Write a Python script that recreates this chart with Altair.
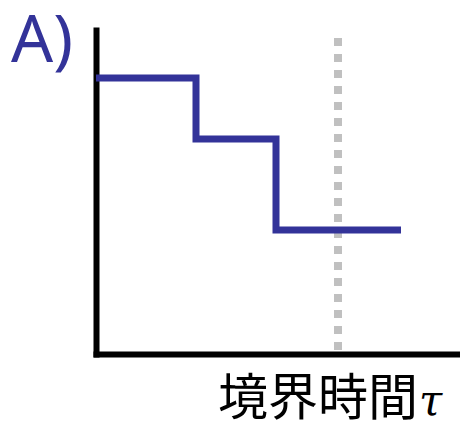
import altair as alt
import pandas as pd

# Step function: breakpoints on the time axis and the level held after each
step_t = [0.0, 1.0, 1.8, 3.05]
step_level = [2.76, 2.15, 1.24, 1.24]

# Boundary time marker
tau_t = [2.42]
tau_top = [3.16]

panel_label = "A)"
axis_label_jp = "境界時間"
axis_label_sym = "τ"

steps = pd.DataFrame({"t": step_t, "level": step_level})
marker = pd.DataFrame({"t": tau_t, "top": tau_top, "bottom": [0.0]})

x_scale = alt.Scale(domain=[0, 3.64], nice=False, zero=False)
y_scale = alt.Scale(domain=[0, 3.24], nice=False, zero=False)

axis_x = alt.Axis(domain=True, domainColor="black", domainWidth=6, domainCap="square",
                  ticks=False, labels=False, grid=False, title=None)
axis_y = alt.Axis(domain=True, domainColor="black", domainWidth=6, domainCap="square",
                  ticks=False, labels=False, grid=False, title=None)

step_line = alt.Chart(steps).mark_line(
    interpolate="step-after", color="#333399", strokeWidth=7,
    strokeJoin="miter", strokeCap="butt"
).encode(
    x=alt.X("t:Q", scale=x_scale, axis=axis_x),
    y=alt.Y("level:Q", scale=y_scale, axis=axis_y),
)

tau_rule = alt.Chart(marker).mark_rule(
    color="#c0c0c0", strokeWidth=8, strokeDash=[8, 8]
).encode(
    x=alt.X("t:Q", scale=x_scale, axis=axis_x),
    y=alt.Y("top:Q", scale=y_scale, axis=axis_y),
    y2="bottom:Q",
)

label_a = alt.Chart(pd.DataFrame({"s": [panel_label]})).mark_text(
    font="Noto Sans", fontSize=66, color="#333399", align="left", baseline="alphabetic"
).encode(text="s:N", x=alt.value(-85), y=alt.value(32))

label_jp = alt.Chart(pd.DataFrame({"s": [axis_label_jp]})).mark_text(
    font="Noto Sans CJK JP", fontSize=50, color="black", align="right", baseline="alphabetic"
).encode(text="s:N", x=alt.value(322), y=alt.value(385))

label_tau = alt.Chart(pd.DataFrame({"s": [axis_label_sym]})).mark_text(
    font="DejaVu Serif", fontStyle="italic", fontSize=42, color="black",
    align="left", baseline="alphabetic"
).encode(text="s:N", x=alt.value(323), y=alt.value(385))

chart = alt.layer(tau_rule, step_line, label_a, label_jp, label_tau).properties(
    width=364, height=324,
    background="white",
    autosize=alt.AutoSizeParams(type="none"),
    padding={"left": 96, "top": 30, "right": 0, "bottom": 69},
).configure_view(stroke=None, strokeWidth=0).configure_axis(grid=False)

chart.save("out.html", embed_options={"renderer": "svg", "actions": False})
